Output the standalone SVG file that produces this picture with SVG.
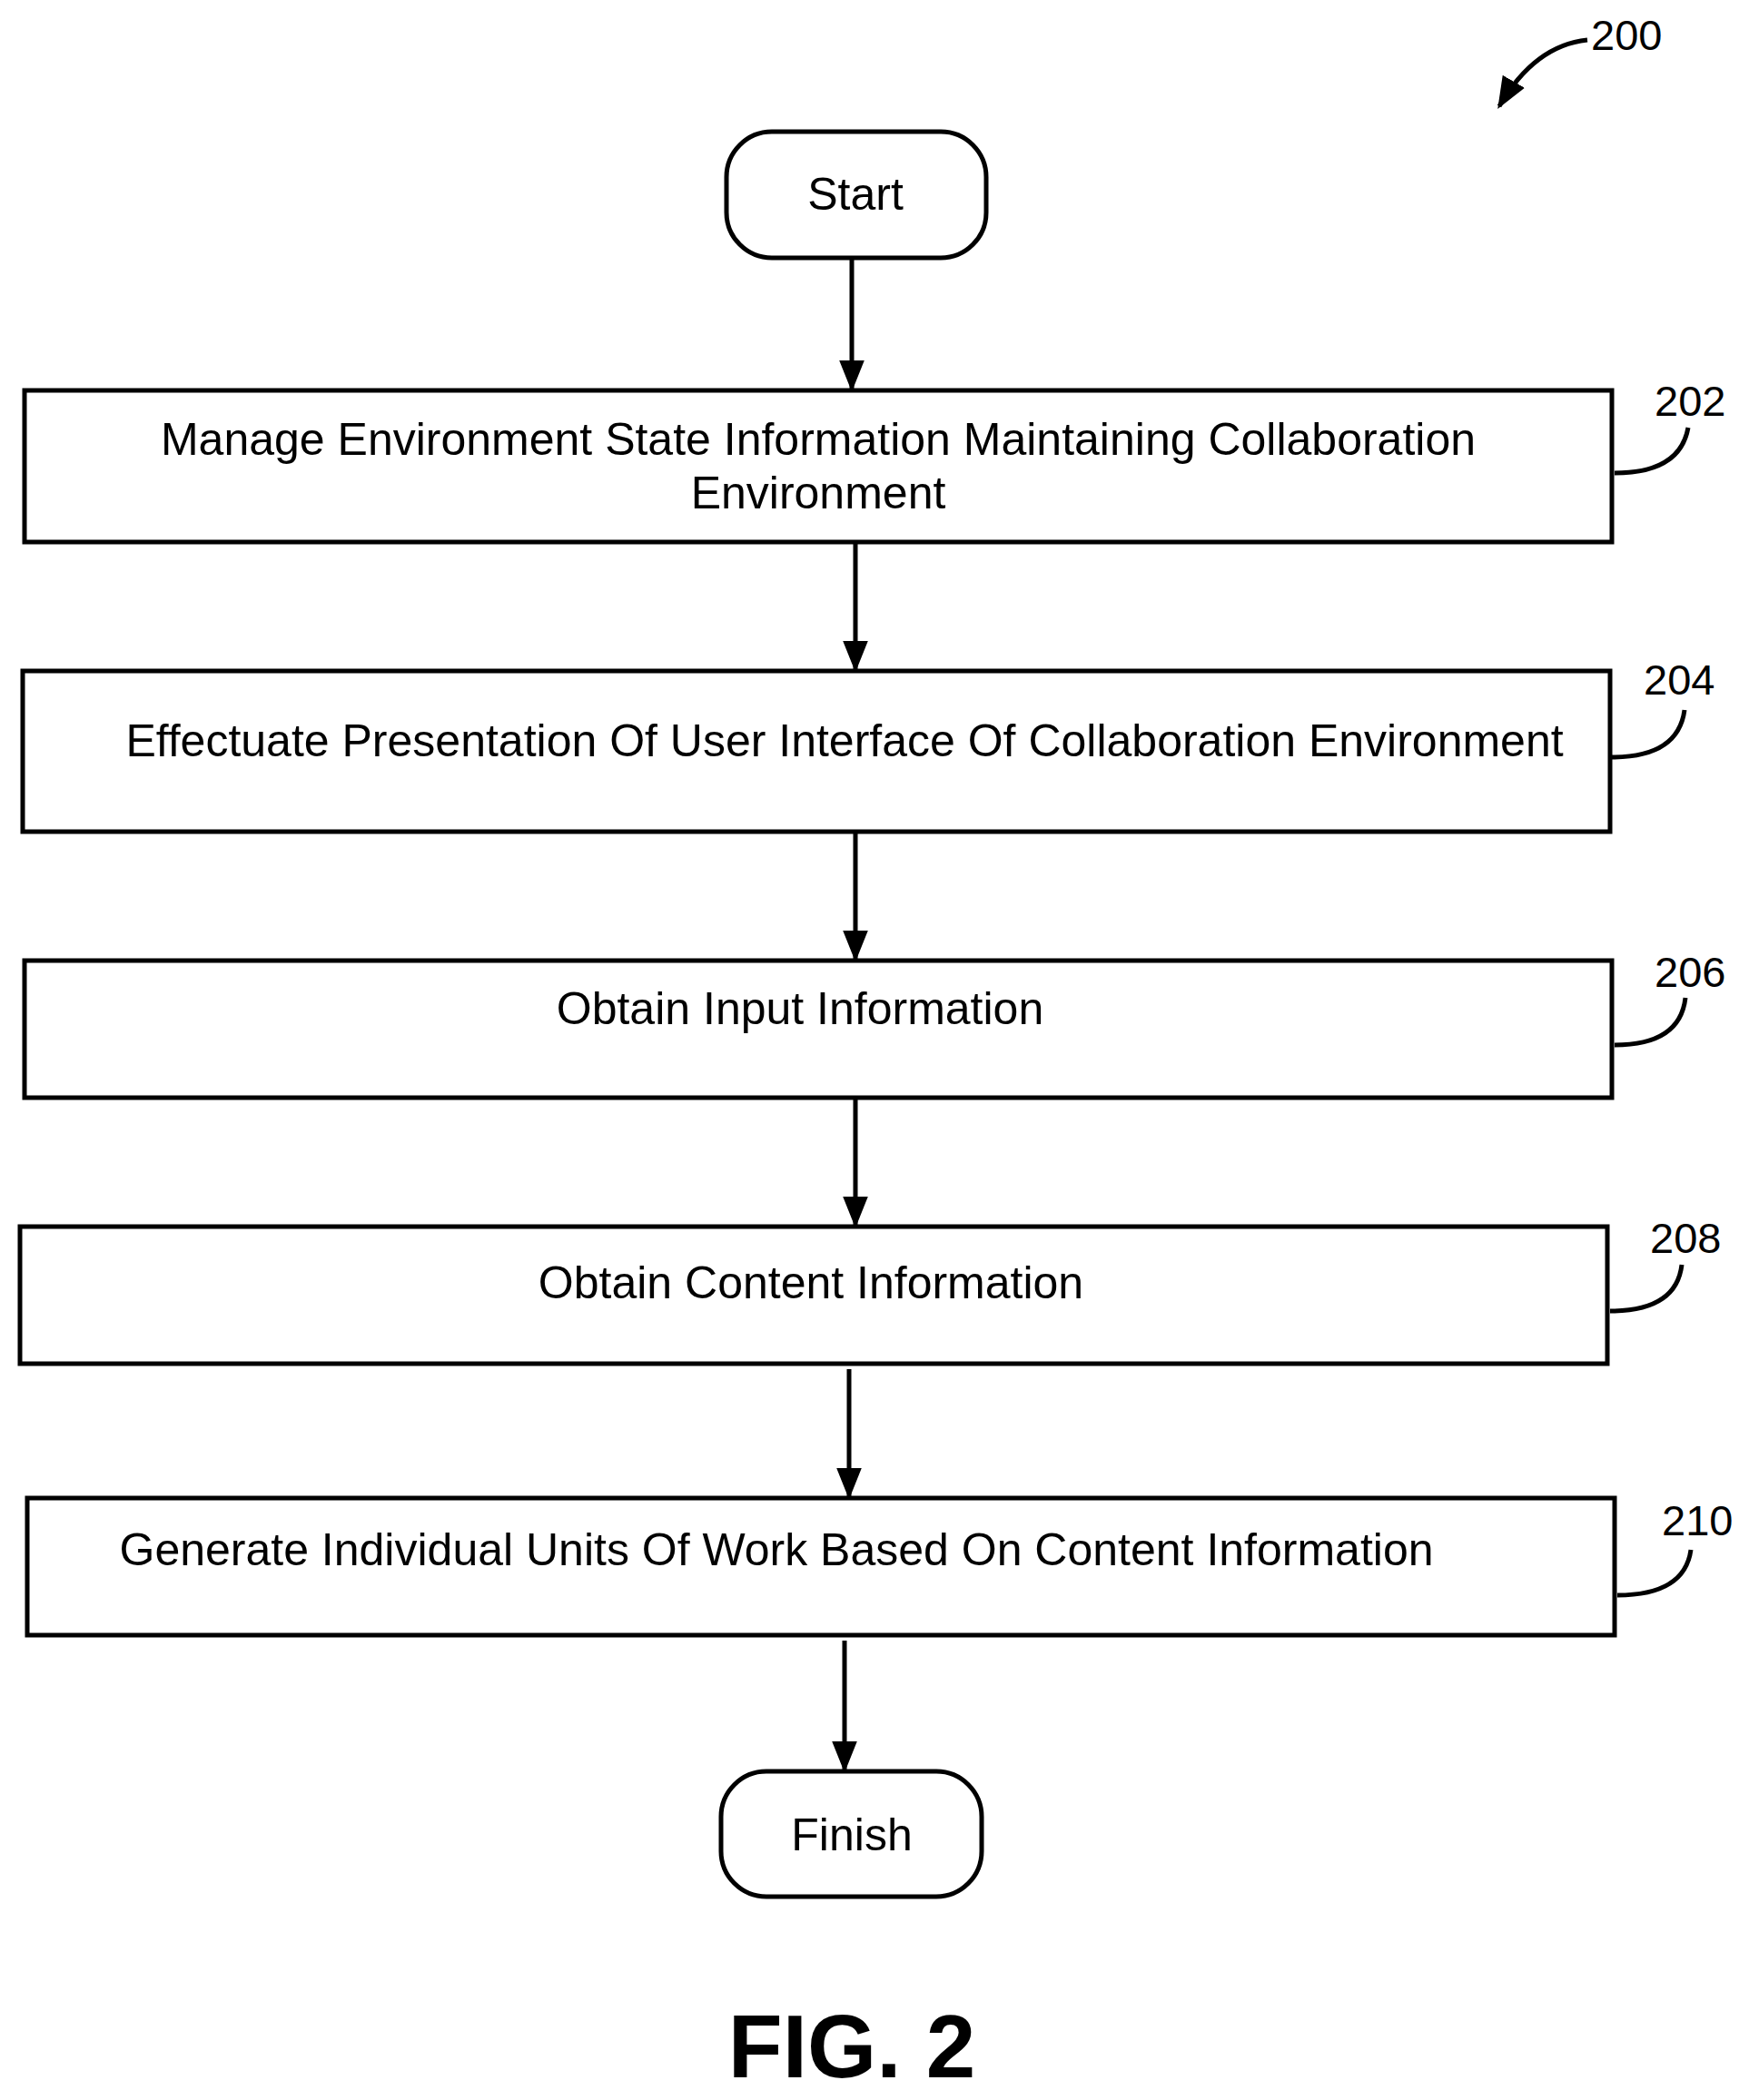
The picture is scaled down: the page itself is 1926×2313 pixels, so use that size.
<svg xmlns="http://www.w3.org/2000/svg" width="1926" height="2313" viewBox="0 0 1926 2313">
<style>
.b{fill:#fff;stroke:#000;stroke-width:5}
.t{font-family:"Liberation Sans",Arial,sans-serif;font-size:50px;text-anchor:middle;fill:#000}
.l{font-family:"Liberation Sans",Arial,sans-serif;font-size:47px;fill:#000}
.c{fill:none;stroke:#000;stroke-width:5}
</style>
<defs><marker id="a" viewBox="0 0 10 10" refX="9" refY="5" markerWidth="7" markerHeight="7" orient="auto" markerUnits="strokeWidth"><path d="M0,1L10,5L0,9z" fill="#000"/></marker></defs>
<rect width="1926" height="2313" fill="#fff"/>
<g id="connectors">
<line class="c" x1="938" y1="284" x2="938" y2="428" marker-end="url(#a)"/>
<line class="c" x1="942" y1="597" x2="942" y2="737" marker-end="url(#a)"/>
<line class="c" x1="942" y1="916" x2="942" y2="1056" marker-end="url(#a)"/>
<line class="c" x1="942" y1="1209" x2="942" y2="1349" marker-end="url(#a)"/>
<line class="c" x1="935" y1="1508" x2="935" y2="1648" marker-end="url(#a)"/>
<line class="c" x1="930" y1="1807" x2="930" y2="1949" marker-end="url(#a)"/>
<path class="c" d="M1778,521 Q1850,521 1859,471"/>
<path class="c" d="M1775,834 Q1848,834 1855,782"/>
<path class="c" d="M1778,1151 Q1850,1151 1856,1099"/>
<path class="c" d="M1773,1444 Q1846,1444 1852,1393"/>
<path class="c" d="M1781,1757 Q1855,1757 1862,1707"/>
<path class="c" d="M1748,44 Q1690,50 1651,117" marker-end="url(#a)"/>
</g>
<g id="start"><rect class="b" x="800" y="145" width="286" height="139" rx="50"/><text class="t" x="942" y="231">Start</text></g>
<g id="n202"><rect class="b" x="27" y="430" width="1748" height="167"/><text class="t" x="901" y="501">Manage Environment State Information Maintaining Collaboration</text><text class="t" x="901" y="560">Environment</text><text class="l" x="1822" y="458">202</text></g>
<g id="n204"><rect class="b" x="25" y="739" width="1748" height="177"/><text class="t" x="930" y="833">Effectuate Presentation Of User Interface Of Collaboration Environment</text><text class="l" x="1810" y="765">204</text></g>
<g id="n206"><rect class="b" x="27" y="1058" width="1748" height="151"/><text class="t" x="881" y="1128">Obtain Input Information</text><text class="l" x="1822" y="1087">206</text></g>
<g id="n208"><rect class="b" x="22" y="1351" width="1748" height="151"/><text class="t" x="893" y="1430">Obtain Content Information</text><text class="l" x="1817" y="1380">208</text></g>
<g id="n210"><rect class="b" x="30" y="1650" width="1748" height="151"/><text class="t" x="855" y="1724">Generate Individual Units Of Work Based On Content Information</text><text class="l" x="1830" y="1691">210</text></g>
<g id="finish"><rect class="b" x="794" y="1951" width="287" height="138" rx="50"/><text class="t" x="938" y="2038">Finish</text></g>
<text class="l" x="1752" y="55">200</text>
<text x="938" y="2288" style="font-family:'Liberation Sans',Arial,sans-serif;font-size:98px;font-weight:bold;text-anchor:middle">FIG. 2</text>
</svg>
